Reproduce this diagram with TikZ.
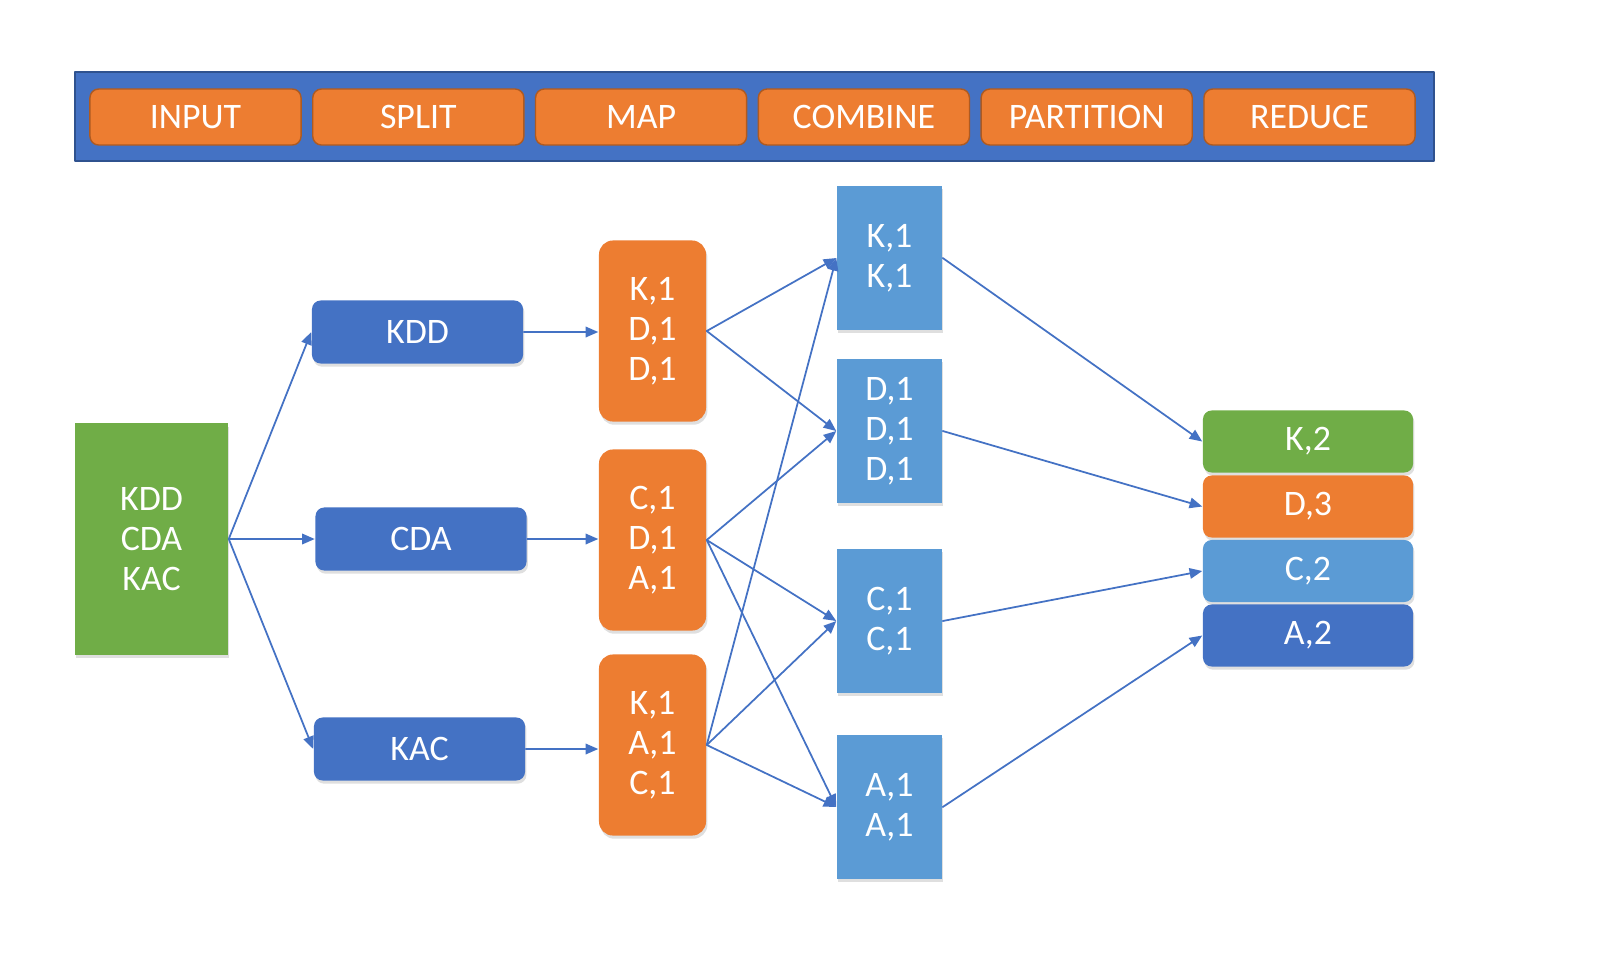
\documentclass[tikz,border=0pt]{standalone}
\usepackage{fontspec}
\setmainfont{Carlito}
\usetikzlibrary{arrows.meta}
\usetikzlibrary{shadows}
\definecolor{mrblue}{HTML}{4472C4}
\definecolor{mrnavy}{HTML}{2F528F}
\definecolor{mrorange}{HTML}{ED7D31}
\definecolor{mredge}{HTML}{AE5A21}
\definecolor{mrgreen}{HTML}{70AD47}
\definecolor{mrsky}{HTML}{5B9BD5}

\begin{document}
\begin{tikzpicture}[line cap=round,line join=round,>={Triangle[length=3.6pt,width=3pt]},x=0.01cm,y=-0.01cm,
  box/.style={text=white,align=center,inner sep=0pt,font=\fontsize{10.2}{11.4}\selectfont,
    drop shadow={opacity=0.25,shadow xshift=0.4pt,shadow yshift=-0.9pt}},
  stage/.style={text=white,inner sep=0pt,font=\fontsize{10.2}{11.4}\selectfont,fill=mrorange,draw=mredge,
    rounded corners=2.5pt,minimum width=2.11cm,minimum height=0.56cm},
  split/.style={box,fill=mrblue,rounded corners=2.5pt,minimum width=2.11cm,minimum height=0.63cm},
  mapbox/.style={box,fill=mrorange,rounded corners=4pt,minimum width=1.07cm,minimum height=1.81cm},
  part/.style={box,fill=mrsky,minimum width=1.05cm,minimum height=1.44cm},
  result/.style={box,rounded corners=2.5pt,minimum width=2.10cm,minimum height=0.62cm},
  link/.style={->,draw=mrblue,line width=0.5pt}]
\useasboundingbox (0,0) rectangle (1600,966);

% stages
\node[fill=mrblue,draw=mrnavy,line width=0.6pt,minimum width=13.59cm,minimum height=0.89cm,inner sep=0pt] (banner) at (754.5,116.5) {};
\foreach \lab [count=\i from 0] in {INPUT,SPLIT,MAP,COMBINE,PARTITION,REDUCE}
  \node[stage] (st\i) at (195.5+222.8*\i,117) {\lab};

\node[box,fill=mrgreen,minimum width=1.53cm,minimum height=2.31cm] (input) at (151.5,539) {KDD\\CDA\\KAC};

\node[split] (kdd) at (417.5,332) {KDD};
\node[split] (cda) at (421,539) {CDA};
\node[split] (kac) at (419.5,749) {KAC};

\node[mapbox] (map1) at (652.5,331) {K,1\\D,1\\D,1};
\node[mapbox] (map2) at (652.5,540) {C,1\\D,1\\A,1};
\node[mapbox] (map3) at (652.5,745) {K,1\\A,1\\C,1};

\node[part] (pk) at (889.5,258) {K,1\\K,1};
\node[part] (pd) at (889.5,431) {D,1\\D,1\\D,1};
\node[part] (pc) at (889.5,621) {C,1\\C,1};
\node[part] (pa) at (889.5,807) {A,1\\A,1};

\node[result,fill=mrgreen] (rk) at (1308,441.5) {K,2};
\node[result,fill=mrorange] (rd) at (1308,506.5) {D,3};
\node[result,fill=mrsky] (rc) at (1308,571) {C,2};
\node[result,fill=mrblue] (ra) at (1308,635.5) {A,2};

% arrows
\foreach \s in {kdd,cda,kac}
  \draw[link] (input.east) -- (\s.west);
\draw[link] (kdd.east) -- (kdd.east -| map1.west);
\draw[link] (cda.east) -- (cda.east -| map2.west);
\draw[link] (kac.east) -- (kac.east -| map3.west);
\foreach \t in {pk,pd}
  \draw[link] (map1.east) -- (\t.west);
\foreach \t in {pd,pc,pa}
  \draw[link] (map2.east) -- (\t.west);
\foreach \t in {pk,pc,pa}
  \draw[link] (map3.east) -- (\t.west);
\draw[link] (pk.east) -- (rk.west);
\draw[link] (pd.east) -- (rd.west);
\draw[link] (pc.east) -- (rc.west);
\draw[link] (pa.east) -- (ra.west);
\end{tikzpicture}
\end{document}
